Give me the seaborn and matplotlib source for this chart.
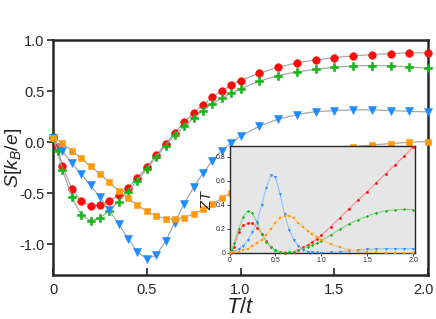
import numpy as np
import matplotlib
matplotlib.use("Agg")
import matplotlib.pyplot as plt
import matplotlib.transforms as mtransforms
import seaborn as sns

# temperature grids (red/green have one extra point at T=0.025)
t_main = [0, 0.05, 0.1, 0.15, 0.2, 0.25, 0.3, 0.35, 0.4, 0.45, 0.5,
          0.55, 0.6, 0.65, 0.7, 0.75, 0.8, 0.85, 0.9, 0.95, 1.0,
          1.1, 1.2, 1.3, 1.4, 1.5, 1.6, 1.7, 1.8, 1.9, 2.0]
t_fine = [0, 0.025] + t_main[1:]

# Seebeck coefficient S [kB/e]
s_red = [0.048, -0.050, -0.232, -0.457, -0.578, -0.620, -0.617, -0.578, -0.516, -0.444, -0.353,
         -0.242, -0.128, -0.017, 0.094, 0.195, 0.287, 0.368, 0.439, 0.502, 0.557, 0.603,
         0.676, 0.733, 0.776, 0.805, 0.828, 0.844, 0.857, 0.867, 0.874, 0.874]
s_green = [0.045, -0.089, -0.271, -0.532, -0.715, -0.767, -0.745, -0.669, -0.581, -0.483, -0.376,
           -0.261, -0.148, -0.033, 0.069, 0.156, 0.234, 0.309, 0.375, 0.433, 0.478, 0.524,
           0.596, 0.652, 0.688, 0.713, 0.733, 0.747, 0.750, 0.747, 0.737, 0.723]
s_blue = [0.045, -0.087, -0.203, -0.314, -0.422, -0.537, -0.664, -0.801, -0.946, -1.075, -1.142,
          -1.107, -0.970, -0.787, -0.601, -0.441, -0.304, -0.180, -0.082, -0.007, 0.058,
          0.156, 0.224, 0.270, 0.299, 0.309, 0.316, 0.316, 0.309, 0.302, 0.296]
s_orange = [0.045, -0.011, -0.082, -0.158, -0.236, -0.310, -0.392, -0.474, -0.549, -0.617, -0.676,
            -0.721, -0.748, -0.748, -0.738, -0.702, -0.657, -0.606, -0.549, -0.493, -0.434,
            -0.322, -0.224, -0.146, -0.092, -0.063, -0.046, -0.028, -0.014, -0.001, 0.006]

# figure of merit ZT (inset)
zt_red = [0, 0.01, 0.05, 0.17, 0.23, 0.245, 0.245, 0.21, 0.16, 0.10, 0.05,
          0.02, 0.005, 0.0, 0.002, 0.01, 0.025, 0.045, 0.065, 0.09, 0.115, 0.145,
          0.215, 0.29, 0.365, 0.44, 0.51, 0.585, 0.66, 0.73, 0.805, 0.88]
zt_green = [0, 0.02, 0.08, 0.2, 0.3, 0.35, 0.33, 0.25, 0.16, 0.09, 0.045,
            0.02, 0.007, 0.002, 0.003, 0.01, 0.02, 0.035, 0.05, 0.065, 0.08, 0.097,
            0.148, 0.195, 0.24, 0.275, 0.305, 0.333, 0.35, 0.358, 0.362, 0.36]
zt_blue = [0, 0.01, 0.03, 0.06, 0.105, 0.175, 0.26, 0.4, 0.54, 0.645, 0.635,
           0.49, 0.32, 0.19, 0.11, 0.055, 0.025, 0.01, 0.004, 0.002, 0.001,
           0.003, 0.008, 0.015, 0.022, 0.028, 0.031, 0.033, 0.034, 0.034, 0.034]
zt_orange = [0, 0.003, 0.01, 0.02, 0.035, 0.055, 0.08, 0.11, 0.15, 0.2, 0.25,
             0.29, 0.305, 0.31, 0.29, 0.25, 0.215, 0.185, 0.155, 0.13, 0.11,
             0.07, 0.045, 0.025, 0.012, 0.005, 0.002, 0.001, 0.0, 0.0, 0.0]

RED, GREEN, BLUE, ORANGE = "#ff0a0a", "#14b414", "#1e8cff", "#ff9a0a"

sns.set_style("ticks")
plt.rcParams["font.family"] = ["Liberation Sans", "DejaVu Sans"]
plt.rcParams["mathtext.fontset"] = "custom"
plt.rcParams["mathtext.rm"] = "Liberation Sans"
plt.rcParams["mathtext.it"] = "Liberation Sans:italic"

fig = plt.figure(figsize=(4.36, 3.19), dpi=100)
ax = fig.add_axes([0.1216, 0.138, 0.8601, 0.7366])

main_series = [
    (t_fine, s_red, "o", RED, 5.5),
    (t_fine, s_green, "P", GREEN, 6.0),
    (t_main, s_blue, "v", BLUE, 5.5),
    (t_main, s_orange, "s", ORANGE, 4.5),
]
for t, s, m, c, ms in main_series:
    sns.lineplot(x=t, y=s, ax=ax, color="#a8a8a8", lw=0.9, marker=m, ms=ms,
                 markerfacecolor=c, markeredgecolor=c, markeredgewidth=0.4,
                 clip_on=False, zorder=3)

ax.set_xlim(0, 2.0)
ax.set_ylim(-1.3, 1.0)
ax.set_xticks([0, 0.5, 1.0, 1.5, 2.0])
ax.set_xticklabels(["0", "0.5", "1.0", "1.5", "2.0"])
ax.set_yticks([-1.0, -0.5, 0.0, 0.5, 1.0])
ax.set_yticklabels(["-1.0", "-0.5", "0.0", "0.5", "1.0"])
ax.tick_params(axis="x", direction="in", length=5, width=1.2, labelsize=10.5, pad=6)
ax.tick_params(axis="y", direction="out", length=4, width=1.2, labelsize=10.5, pad=2)
# nudge the last x label so it stays inside the canvas
last = ax.get_xticklabels()[-1]
last.set_transform(last.get_transform() +
                   mtransforms.ScaledTranslation(-3 / 72, 0, fig.dpi_scale_trans))
for sp in ax.spines.values():
    sp.set_linewidth(1.8)
    sp.set_visible(True)
ax.set_xlabel("$T/t$", fontsize=16, labelpad=0)
ax.set_ylabel("$S[k_B/e]$", fontsize=14)
ax.yaxis.set_label_coords(-0.078, 0.5)

# inset: ZT
ins = fig.add_axes([0.5264, 0.2078, 0.4255, 0.3346])
ins.set_facecolor("#e6e6e6")
inset_series = [
    (t_fine, zt_red, "o", RED, "#ff8a8a"),
    (t_fine, zt_green, "P", GREEN, "#7fd27f"),
    (t_main, zt_blue, "v", BLUE, "#8cc2ff"),
    (t_main, zt_orange, "s", ORANGE, "#ffc878"),
]
for t, z, m, c, lc in inset_series:
    sns.lineplot(x=t, y=z, ax=ins, color=lc, lw=0.8, marker=m, ms=1.8,
                 markerfacecolor=c, markeredgecolor=c, markeredgewidth=0.2,
                 clip_on=False, zorder=3)
ins.set_xlim(0, 2.02)
ins.set_ylim(0, 0.89)
ins.set_xticks([0, 0.5, 1.0, 1.5, 2.0])
ins.set_xticklabels(["0", "0.5", "1.0", "1.5", "2.0"])
ins.set_yticks([0, 0.2, 0.4, 0.6, 0.8])
ins.set_yticklabels(["0", "0.2", "0.4", "0.6", "0.8"])
ins.tick_params(axis="both", direction="out", length=2, width=0.6, labelsize=5, pad=1)
for sp in ins.spines.values():
    sp.set_linewidth(1.0)
    sp.set_visible(True)
ins.set_ylabel("$ZT$", fontsize=10.5, labelpad=1)
ins.set_xlabel("")

fig.savefig("out.png", dpi=100)
